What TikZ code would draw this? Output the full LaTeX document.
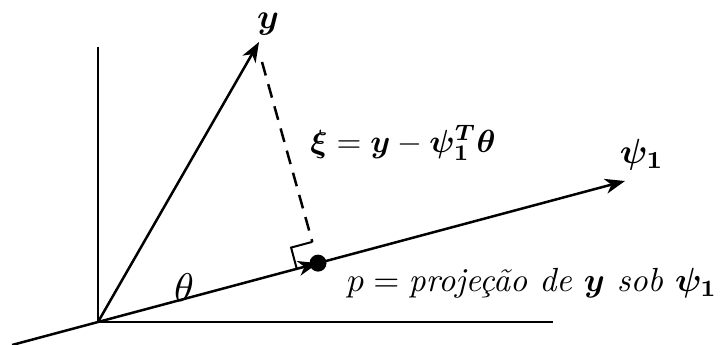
\documentclass[tikz,border=0pt]{standalone}
\usepackage{amsmath,bm}
\usetikzlibrary{calc,arrows.meta}
\begin{document}
\begin{tikzpicture}[x=1pt,y=-1pt, line width=2.5pt,
  vec/.style={-{Stealth[length=20pt,width=15pt,inset=6pt]}},
  lbl/.style={scale=3.5, inner sep=0pt}]
\useasboundingbox (0,0) rectangle (728,345);
\coordinate (O) at (98,322);
\coordinate (vtop) at (98,47);
\coordinate (hend) at (553,322);
\coordinate (ytip) at (259,42);
\coordinate (psitip) at (625,181);
\coordinate (p) at ($(O)!0.4175!(psitip)$);
\coordinate (lend) at ($(O)!-0.163!(psitip)$);
\coordinate (dstart) at (262,62);
% axes
\draw (vtop) -- (O) -- (hend);
% psi line
\draw (lend) -- (O);
\draw[vec] (O) -- (p);
\draw[vec] (p) -- (psitip);
% y vector
\draw[vec] (O) -- (ytip);
% right angle marker
\coordinate (ra) at ($(p)!22pt!(O)$);
\coordinate (rc) at ($(ra)!22pt!90:(p)$);
\coordinate (rb) at ($(p)!22pt!-90:(O)$);
\draw[line width=2pt] (ra) -- (rc) -- (rb);
% dashed
\draw[dash pattern=on 14pt off 9pt] (dstart) -- (rb);
% dot
\fill (p) circle (8.5pt);
% labels
\node[lbl] (ylbl) at (268,24) {$\bm{y}$};
\node[lbl, scale=3.2/3.5] (xilbl) at (403,143) {$\bm{\xi} = \bm{y} - \bm{\psi}_{\bm{1}}^{\bm{T}}\bm{\theta}$};
\node[lbl] (psilbl) at (642,155) {$\bm{\psi}_{\bm{1}}$};
\node[lbl, scale=3.35/3.5, anchor=west] (plbl) at (343,283) {$p = \textit{projeção de } \bm{y} \textit{ sob } \bm{\psi}_{\bm{1}}$};
\node[lbl, scale=4/3.5] (thlbl) at (184,288) {$\theta$};
\end{tikzpicture}
\end{document}
